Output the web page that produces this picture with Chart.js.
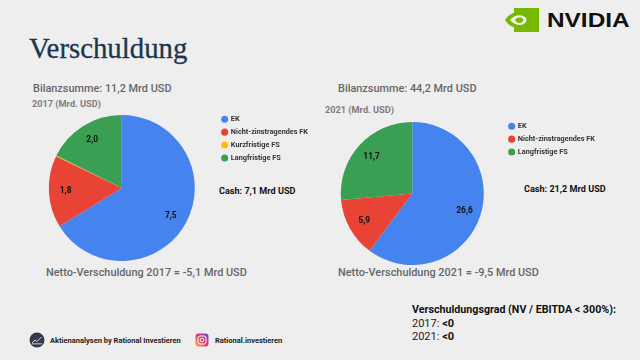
<!DOCTYPE html>
<html>
<head>
<meta charset="utf-8">
<script src="https://cdn.jsdelivr.net/npm/chart.js@4"></script>
<style>
  html, body { margin: 0; padding: 0; }
  body { width: 640px; height: 360px; background: #eeeeee; position: relative; overflow: hidden; font-family: Roboto, sans-serif; }
  .t { position: absolute; white-space: nowrap; line-height: 1; }
  .grau { color: #666666; font-weight: 500; font-size: 10.9px; }
  .klein { color: #7d7d7d; font-weight: 700; font-size: 9.2px; }
  .cash { color: #111; font-weight: 700; font-size: 9.1px; }
  .fuss { color: #222; font-weight: 700; font-size: 7.5px; }
  .wrap { position: absolute; }
  svg { position: absolute; }
</style>
</head>
<body>

<div class="t" id="titel" style="left:29px;top:34px;font-family:'Liberation Serif',serif;font-size:28.8px;color:#1d3550;-webkit-text-stroke:0.3px #1d3550;">Verschuldung</div>

<!-- NVIDIA Logo -->
<svg style="left:504px;top:8px" width="36" height="24" viewBox="0 0 36 24">
  <rect x="10" y="0" width="25" height="24" fill="#76b900"/>
  <path d="M1 12 C6 4 15 2 24 6 L24 18 C15 22 6 20 1 12Z" fill="#76b900"/>
  <path d="M6 12 C10 7 16 6 21 9 C23 11 23 14 20 16 C16 18 10 17 6 12Z" fill="#eeeeee"/>
  <path d="M11 12 C13 9 17 9 19 11 C20 13 18 15 15 15 C13 15 12 13 11 12Z" fill="#76b900"/>
</svg>
<div class="t" style="left:547px;top:11px;font-family:'Liberation Sans',sans-serif;font-weight:700;font-size:19.5px;color:#111;transform:scaleX(1.25);transform-origin:left;">NVIDIA</div>

<div class="t grau" style="left:33px;top:84px;">Bilanzsumme: 11,2 Mrd USD</div>
<div class="t klein" style="left:32px;top:99px;">2017 (Mrd. USD)</div>
<div class="t cash" style="left:219px;top:187px;">Cash: 7,1 Mrd USD</div>
<div class="t grau" style="left:46px;top:268px;">Netto-Verschuldung 2017 = -5,1 Mrd USD</div>

<div class="t grau" style="left:338px;top:84px;">Bilanzsumme: 44,2 Mrd USD</div>
<div class="t klein" style="left:325px;top:105px;">2021 (Mrd. USD)</div>
<div class="t cash" style="left:524px;top:185px;">Cash: 21,2 Mrd USD</div>
<div class="t grau" style="left:338px;top:268px;">Netto-Verschuldung 2021 = -9,5 Mrd USD</div>

<div class="wrap" style="left:27px;top:115px;width:291px;height:146px;"><canvas id="chart2017"></canvas></div>
<div class="wrap" style="left:321px;top:122px;width:284px;height:143px;"><canvas id="chart2021"></canvas></div>

<div class="t" style="left:412px;top:305px;font-size:10.7px;font-weight:700;color:#111;">Verschuldungsgrad (NV / EBITDA &lt; 300%):</div>
<div class="t" style="left:412px;top:318px;font-size:11px;color:#222;">2017: <b style="color:#111">&lt;0</b></div>
<div class="t" style="left:412px;top:331px;font-size:11px;color:#222;">2021: <b style="color:#111">&lt;0</b></div>

<!-- Fusszeile -->
<svg style="left:29px;top:332px" width="16" height="16" viewBox="0 0 16 16">
  <circle cx="8" cy="8" r="7.5" fill="#33384a"/>
  <path d="M3 11 L6 8 L8 9.5 L12.5 5" stroke="#d8d8d8" stroke-width="1" fill="none"/>
  <rect x="3" y="11" width="10" height="1.5" fill="#9a9da8"/>
</svg>
<div class="t fuss" style="left:50px;top:337px;">Aktienanalysen by Rational Investieren</div>
<svg style="left:195px;top:333px" width="14" height="14" viewBox="0 0 14 14">
  <defs><linearGradient id="ig" x1="0" y1="1" x2="1" y2="0">
    <stop offset="0" stop-color="#fdb44a"/><stop offset="0.5" stop-color="#e1306c"/><stop offset="1" stop-color="#5b51d8"/>
  </linearGradient></defs>
  <rect x="0.5" y="0.5" width="13" height="13" rx="3" fill="url(#ig)"/>
  <rect x="3" y="3" width="8" height="8" rx="2" fill="none" stroke="#fff" stroke-width="1"/>
  <circle cx="7" cy="7" r="1.8" fill="none" stroke="#fff" stroke-width="1"/>
</svg>
<div class="t fuss" style="left:215px;top:337px;">Rational.investieren</div>

<script>
const kategorien2017 = ['EK', 'Nicht-zinstragendes FK', 'Kurzfristige FS', 'Langfristige FS'];
const werte2017 = [7.5, 1.8, 0.02, 2.0];
const farben2017 = ['#4583ef', '#e84335', '#fbbc04', '#3b9f53'];

const kategorien2021 = ['EK', 'Nicht-zinstragendes FK', 'Langfristige FS'];
const werte2021 = [26.6, 5.9, 11.7];
const farben2021 = ['#4583ef', '#e84335', '#3b9f53'];

// Werte direkt in die Segmente schreiben, sehr kleine auslassen
const wertLabels = {
  id: 'wertLabels',
  afterDatasetsDraw(chart) {
    const ctx = chart.ctx;
    const meta = chart.getDatasetMeta(0);
    const werte = chart.data.datasets[0].data;
    ctx.save();
    ctx.font = '700 8.4px Roboto';
    ctx.fillStyle = '#111';
    ctx.textAlign = 'center';
    ctx.textBaseline = 'middle';
    meta.data.forEach((arc, i) => {
      if (werte[i] < 0.5) return;
      const p = arc.getProps(['x', 'y', 'startAngle', 'endAngle', 'outerRadius'], true);
      const mitte = (p.startAngle + p.endAngle) / 2;
      const r = p.outerRadius * 0.77;
      ctx.fillText(werte[i].toFixed(1).replace('.', ','), p.x + Math.cos(mitte) * r, p.y + Math.sin(mitte) * r);
    });
    ctx.restore();
  }
};

// Legende sitzt im Original ueber der Oberkante des Kreises
const legendeHoch = {
  id: 'legendeHoch',
  afterLayout(chart) { chart.legend.top -= 5; }
};

function zeichnePie(id, kategorien, werte, farben) {
  new Chart(document.getElementById(id), {
    type: 'pie',
    data: { labels: kategorien, datasets: [{ data: werte, backgroundColor: farben, borderWidth: 0 }] },
    options: {
      responsive: true,
      maintainAspectRatio: false,
      animation: false,
      layout: { padding: 0 },
      plugins: {
        tooltip: { enabled: false },
        legend: {
          position: 'right',
          align: 'start',
          onClick: null,
          labels: {
            usePointStyle: true,
            pointStyle: 'circle',
            boxWidth: 5,
            boxHeight: 5,
            padding: 5.6,
            color: '#333',
            font: { family: 'Roboto', size: 7.3, weight: '700' }
          }
        }
      }
    },
    plugins: [wertLabels, legendeHoch]
  });
}

zeichnePie('chart2017', kategorien2017, werte2017, farben2017);
zeichnePie('chart2021', kategorien2021, werte2021, farben2021);
</script>
</body>
</html>
